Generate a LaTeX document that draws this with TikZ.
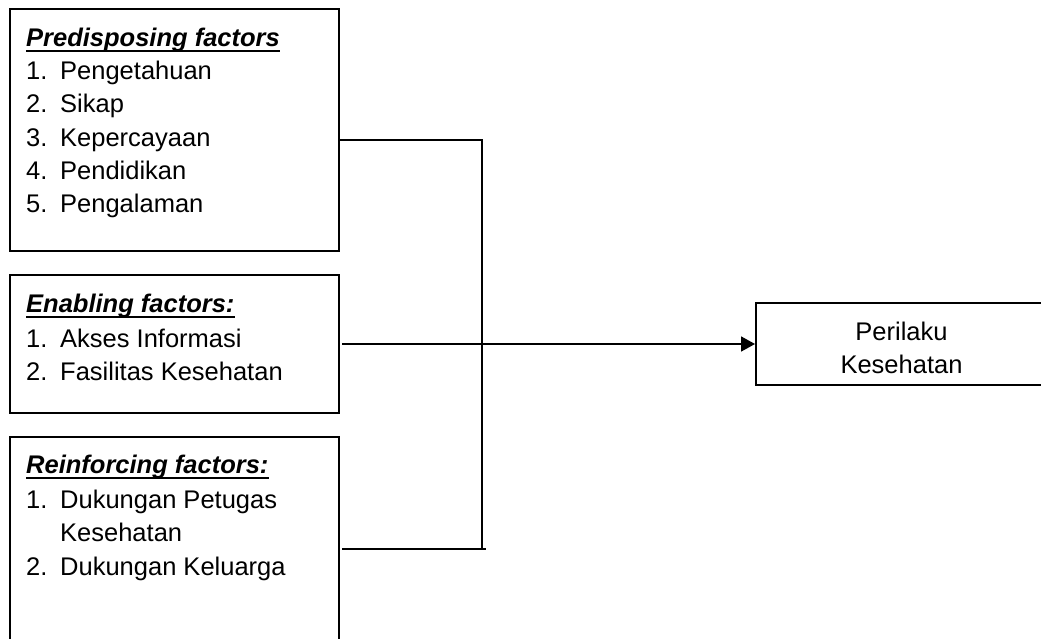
\documentclass[tikz,border=0pt]{standalone}
\usepackage{fontspec}
\setmainfont{Liberation Sans}
\usetikzlibrary{arrows.meta}
\begin{document}
\begin{tikzpicture}[x=1pt,y=-1pt]
\tikzset{
  box/.style={draw, line width=1.8pt, anchor=north west, inner sep=0pt},
  txt/.style={anchor=base west, inner sep=0pt, font=\fontsize{25.5}{30}\selectfont},
  ttl/.style={anchor=base west, inner sep=0pt, font=\fontsize{25.5}{30}\selectfont\bfseries\itshape},
  ctr/.style={anchor=base, inner sep=0pt, font=\fontsize{25.5}{30}\selectfont},
  ul/.style={line width=2pt},
  conn/.style={line width=1.8pt},
}
\useasboundingbox (0,0) rectangle (1041,639);
\clip (0,0) rectangle (1041,639);
\fill[white] (0,0) rectangle (1041,639);

% boxes
\node[box, minimum width=329pt, minimum height=242pt] (b1) at (9,8) {};
\node[box, minimum width=329pt, minimum height=138pt] (b2) at (9,274) {};
\node[box, minimum width=329pt, minimum height=220pt] (b3) at (9,436) {};
\node[box, minimum width=293pt, minimum height=82pt] (b4) at (755,302) {};

% box 1 text
\node[ttl] (t1) at (26,47) {Predisposing factors};
\draw[ul] ([yshift=-4.5pt]t1.base west) -- ([yshift=-4.5pt]t1.base east);
\node[txt] (n11) at (26,80) {1.};  \node[txt] (i11) at (60,80) {Pengetahuan};
\node[txt] (n12) at (26,113) {2.}; \node[txt] (i12) at (60,113) {Sikap};
\node[txt] (n13) at (26,146.5) {3.}; \node[txt] (i13) at (60,146.5) {Kepercayaan};
\node[txt] (n14) at (26,180) {4.}; \node[txt] (i14) at (60,180) {Pendidikan};
\node[txt] (n15) at (26,213) {5.}; \node[txt] (i15) at (60,213) {Pengalaman};

% box 2 text
\node[ttl] (t2) at (26,312) {Enabling factors:};
\draw[ul] ([yshift=-4.5pt]t2.base west) -- ([yshift=-4.5pt]t2.base east);
\node[txt] (n21) at (26,347) {1.}; \node[txt] (i21) at (60,347) {Akses Informasi};
\node[txt] (n22) at (26,380) {2.}; \node[txt] (i22) at (60,380) {Fasilitas Kesehatan};

% box 3 text
\node[ttl] (t3) at (26,473) {Reinforcing factors:};
\draw[ul] ([yshift=-4.5pt]t3.base west) -- ([yshift=-4.5pt]t3.base east);
\node[txt] (n31) at (26,508) {1.}; \node[txt] (i31) at (60,508) {Dukungan Petugas};
\node[txt] (i31b) at (60,541.5) {Kesehatan};
\node[txt] (n32) at (26,575) {2.}; \node[txt] (i32) at (60,575) {Dukungan Keluarga};

% box 4 text
\node[ctr] (p1) at (901.5,340) {Perilaku};
\node[ctr] (p2) at (901.5,373) {Kesehatan};

% connectors
\coordinate (j1) at (482,140);
\coordinate (j3) at (482,549);
\coordinate (e3) at (486,549);
\coordinate (s2) at (342,344);
\coordinate (s3) at (342,549);
\draw[conn] (b1.east |- j1) -- (j1) -- (j3);
\draw[conn] (s3) -- (e3);
\draw[conn, -{Triangle[length=14pt, width=15pt]}] (s2) -- (b4.west |- s2);
\end{tikzpicture}
\end{document}
